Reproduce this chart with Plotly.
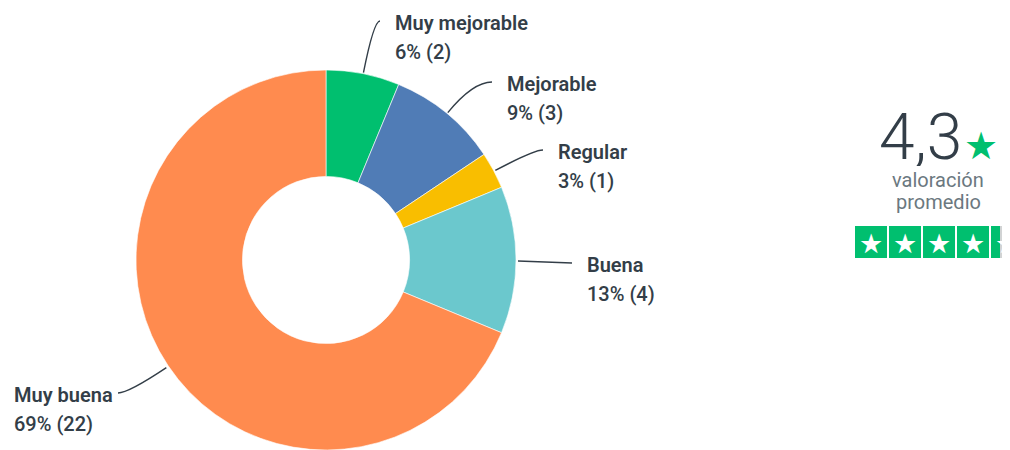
import math
import plotly.graph_objects as go

# ---------------- data ----------------
categories = ["Muy mejorable", "Mejorable", "Regular", "Buena", "Muy buena"]
counts = [2, 3, 1, 4, 22]
scores = [1, 2, 3, 4, 5]
colors = ["#00BF6F", "#507CB6", "#F9BE00", "#6BC8CD", "#FF8B4F"]
rating_lines = ["valoración", "promedio"]

# ---------------- layout constants ----------------
OFF = 8                      # page body margin
W, H = 1010 - OFF, 450 - OFF
CX, CY, R = 326, 261, 191    # donut centre / radius in page px
HOLE = 0.44
# (text left x, first-line y, leader-line end x) in page px
label_pos = [(393, 23, 380), (505, 84, 492), (556, 152, 543),
             (585, 265, 572), (12, 395, 118)]
TXT = "#333e48"
FONT = "Roboto"


def px(x):
    return (x - OFF) / W


def py(y):
    return 1 - (y - OFF) / H


total = sum(counts)
avg = sum(c * s for c, s in zip(counts, scores)) / total

fig = go.Figure()
fig.add_trace(go.Pie(
    labels=categories, values=counts, sort=False, direction="clockwise",
    rotation=0, hole=HOLE, textinfo="none", hoverinfo="label+percent+value",
    marker=dict(colors=colors, line=dict(color="white", width=0.6)),
    domain=dict(x=[px(CX - R), px(CX + R)], y=[max(0, py(CY + R)), min(1, py(CY - R))]),
    showlegend=False,
))

shapes = []
annotations = []
cum = 0
for cat, c, (tx, ty, ex) in zip(categories, counts, label_pos):
    mid = (cum + c / 2) / total * 2 * math.pi
    cum += c
    sx, sy = math.sin(mid), -math.cos(mid)
    x0, y0 = CX + (R + 1) * sx, CY + (R + 1) * sy
    ey = ty - 2
    if abs(sy) > 0.05:
        t = (ey - y0) / sy
        qx, qy = x0 + t * sx, ey
    else:
        qx, qy = (x0 + ex) / 2, (y0 + ey) / 2
    path = f"M {px(x0)},{py(y0)} Q {px(qx)},{py(qy)} {px(ex)},{py(ey)}"
    shapes.append(dict(type="path", path=path, xref="paper", yref="paper",
                       line=dict(color="#333e48", width=1.4)))
    pct = int(c / total * 100 + 0.5)
    annotations.append(dict(x=px(tx), y=py(ty), xref="paper", yref="paper",
                            text=cat, showarrow=False, xanchor="left",
                            yanchor="middle",
                            font=dict(family=FONT, size=20, color=TXT, weight=600)))
    annotations.append(dict(x=px(tx), y=py(ty + 29), xref="paper", yref="paper",
                            text=f"{pct}% ({c})", showarrow=False, xanchor="left",
                            yanchor="middle",
                            font=dict(family=FONT, size=20, color=TXT, weight=500)))

# ---------------- rating block ----------------
avg_txt = f"{avg:.1f}".replace(".", ",")
annotations.append(dict(x=px(964), y=py(137), xref="paper", yref="paper",
                        text=avg_txt, showarrow=False, xanchor="right",
                        yanchor="middle", height=58, valign="middle",
                        font=dict(family=FONT, size=64, color=TXT, weight=300)))
annotations.append(dict(x=px(981), y=py(146), xref="paper", yref="paper",
                        text="★", showarrow=False, xanchor="center",
                        yanchor="middle",
                        font=dict(family="DejaVu Sans", size=38, color="#00BF6F")))
for j, line in enumerate(rating_lines):
    annotations.append(dict(x=px(938), y=py(180 + 22 * j), xref="paper", yref="paper",
                            text=line, showarrow=False, xanchor="center",
                            yanchor="middle",
                            font=dict(family=FONT, size=20, color="#6b787f")))

BOX, GAP, BX0, BY0 = 32, 2, 855, 226
for i in range(5):
    bx = BX0 + i * (BOX + GAP)
    frac = max(0.0, min(1.0, avg - i))
    shapes.append(dict(type="rect", xref="paper", yref="paper",
                       x0=px(bx), x1=px(bx + BOX), y0=py(BY0 + BOX), y1=py(BY0),
                       fillcolor="#d1d3d4", line=dict(width=0)))
    if frac > 0:
        shapes.append(dict(type="rect", xref="paper", yref="paper",
                           x0=px(bx), x1=px(bx + BOX * frac),
                           y0=py(BY0 + BOX), y1=py(BY0),
                           fillcolor="#00BF6F", line=dict(width=0)))
    annotations.append(dict(x=px(bx + BOX / 2), y=py(BY0 + BOX / 2 + 1),
                            xref="paper", yref="paper", text="★",
                            showarrow=False, xanchor="center", yanchor="middle",
                            font=dict(family="DejaVu Sans", size=27, color="white")))

fig.update_layout(
    width=W, height=H, autosize=False,
    margin=dict(l=0, r=0, t=0, b=0),
    paper_bgcolor="white", plot_bgcolor="white",
    shapes=shapes, annotations=annotations,
)

fig.write_html("out.html")
